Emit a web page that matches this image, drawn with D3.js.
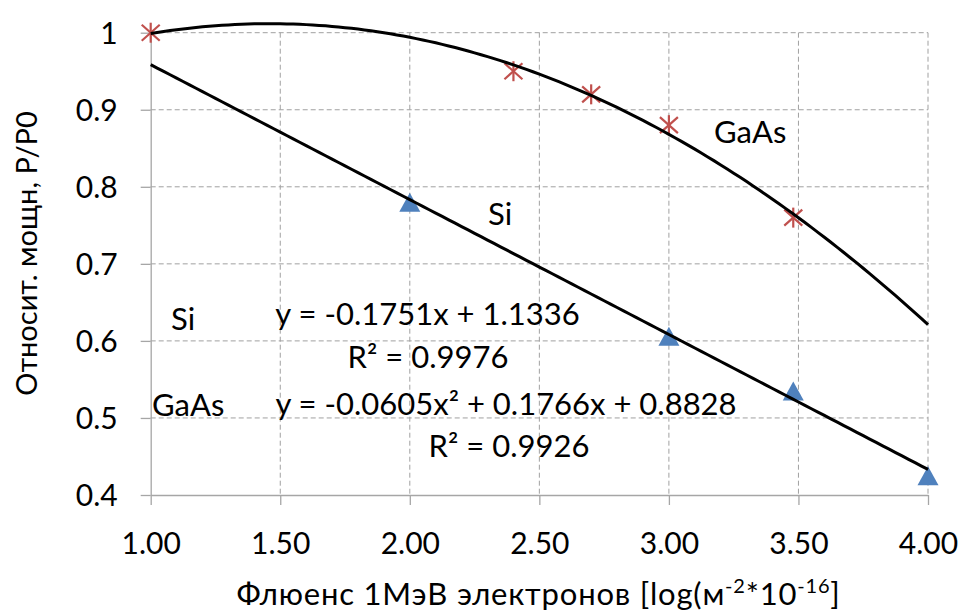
<!DOCTYPE html>
<html>
<head>
<meta charset="utf-8">
<script src="https://cdn.jsdelivr.net/npm/d3@7"></script>
<style>
  html, body { margin: 0; padding: 0; background: #fff; }
  svg { display: block; font-family: Lato, "Open Sans", sans-serif; }
</style>
</head>
<body>
<svg id="chart" width="966" height="611"></svg>
<script>
// ---- data ----
const xTicks = [1.0, 1.5, 2.0, 2.5, 3.0, 3.5, 4.0];
const xTickLabels = ["1.00", "1.50", "2.00", "2.50", "3.00", "3.50", "4.00"];
const yTicks = [0.4, 0.5, 0.6, 0.7, 0.8, 0.9, 1.0];
const yTickLabels = ["0.4", "0.5", "0.6", "0.7", "0.8", "0.9", "1"];

const gaasX = [1.0, 2.4, 2.7, 3.0, 3.48];
const gaasY = [1.0, 0.95, 0.92, 0.88, 0.76];
const siX = [2.0, 3.0, 3.48, 4.0];
const siY = [0.78, 0.606, 0.535, 0.425];

// trendline coefficients (highest power first), as printed on the chart
const siTrend = [-0.1751, 1.1336];
const gaasTrend = [-0.0605, 0.1766, 0.8828];
const trendRange = [1.0, 4.0];

const siEquation = "y = -0.1751x + 1.1336";
const siR2 = "R\u00B2 = 0.9976";
const gaasEquation = "y = -0.0605x\u00B2 + 0.1766x + 0.8828";
const gaasR2 = "R\u00B2 = 0.9926";

const yTitle = "Относит. мощн, P/P0";

// ---- layout ----
const svg = d3.select("#chart");
const pLeft = 150.7, pRight = 928, pTop = 32.7, pBottom = 495;
const x = d3.scaleLinear().domain([1, 4]).range([pLeft, pRight]);
const y = d3.scaleLinear().domain([0.4, 1]).range([pBottom, pTop]);
const fs = 31;
const tickFs = 30;
const gridColor = "#a0a0a0";
const axisColor = "#a6a6a6";

// grid
svg.append("g").selectAll("line").data(yTicks.filter(d => d > 0.4)).join("line")
  .attr("x1", pLeft).attr("x2", pRight)
  .attr("y1", d => y(d)).attr("y2", d => y(d))
  .attr("stroke", gridColor).attr("stroke-width", 1).attr("stroke-dasharray", "5,3");
svg.append("g").selectAll("line").data(xTicks.filter(d => d > 1)).join("line")
  .attr("x1", d => x(d)).attr("x2", d => x(d))
  .attr("y1", pTop).attr("y2", pBottom)
  .attr("stroke", gridColor).attr("stroke-width", 1).attr("stroke-dasharray", "5,3");

// axes
const yAxis = d3.axisLeft(y).tickValues(yTicks)
  .tickFormat((d, i) => yTickLabels[i]).tickSizeInner(10).tickSizeOuter(0).tickPadding(23);
const gy = svg.append("g").attr("transform", `translate(${pLeft},0)`).call(yAxis);
gy.select(".domain").attr("stroke", axisColor).attr("stroke-width", 1.3);
gy.selectAll(".tick line").attr("stroke", axisColor).attr("stroke-width", 1.3);
gy.selectAll(".tick text").attr("font-size", tickFs).attr("fill", "#000")
  .attr("font-family", "Lato").attr("dy", "0.36em");

const xAxis = d3.axisBottom(x).tickValues(xTicks)
  .tickFormat((d, i) => xTickLabels[i]).tickSizeInner(10).tickSizeOuter(0).tickPadding(10);
const gx = svg.append("g").attr("transform", `translate(0,${pBottom})`).call(xAxis);
gx.select(".domain").attr("stroke", axisColor).attr("stroke-width", 1.3);
gx.selectAll(".tick line").attr("stroke", axisColor).attr("stroke-width", 1.3);
gx.selectAll(".tick text").attr("font-size", tickFs).attr("fill", "#000")
  .attr("font-family", "Lato").attr("y", 59).attr("dy", 0);

// markers
const tri = { draw(ctx) { ctx.moveTo(0, -9.5); ctx.lineTo(10.5, 9.5); ctx.lineTo(-10.5, 9.5); ctx.closePath(); } };
svg.append("g").selectAll("path").data(siX.map((v, i) => [v, siY[i]])).join("path")
  .attr("transform", d => `translate(${x(d[0])},${y(d[1])})`)
  .attr("d", d3.symbol(tri)())
  .attr("fill", "#4F81BD");

const star = svg.append("g").selectAll("g").data(gaasX.map((v, i) => [v, gaasY[i]])).join("g")
  .attr("transform", d => `translate(${x(d[0])},${y(d[1])})`)
  .attr("stroke", "#C0504D").attr("stroke-width", 2.2).attr("fill", "none");
star.append("line").attr("x1", 0).attr("y1", -10).attr("x2", 0).attr("y2", 10);
star.append("line").attr("x1", -9).attr("y1", -8).attr("x2", 9).attr("y2", 8);
star.append("line").attr("x1", -9).attr("y1", 8).attr("x2", 9).attr("y2", -8);

// trendlines
function poly(c, t) { return c.reduce((acc, k) => acc * t + k, 0); }
const samples = d3.range(0, 121).map(i => trendRange[0] + (trendRange[1] - trendRange[0]) * i / 120);
const line = d3.line().x(d => x(d[0])).y(d => y(d[1]));
svg.append("path").datum(samples.map(t => [t, poly(gaasTrend, t)]))
  .attr("d", line).attr("fill", "none").attr("stroke", "#000").attr("stroke-width", 3);
svg.append("path").datum(samples.map(t => [t, poly(siTrend, t)]))
  .attr("d", line).attr("fill", "none").attr("stroke", "#000").attr("stroke-width", 3);

// text annotations
const txt = (s, px, py, anchor) => svg.append("text").attr("x", px).attr("y", py)
  .attr("text-anchor", anchor || "start").attr("font-size", fs).attr("fill", "#000").text(s);
txt("Si", 171, 330);
txt("GaAs", 152, 416);
txt(siEquation, 427.5, 325, "middle");
txt(siR2, 428, 368, "middle");
txt(gaasEquation, 506, 415, "middle");
txt(gaasR2, 509, 457, "middle");
txt("Si", 488, 225);
txt("GaAs", 714, 143);

// axis titles
svg.append("text").attr("transform", "translate(37,253.5) rotate(-90)")
  .attr("text-anchor", "middle").attr("font-size", 29).attr("fill", "#000").text(yTitle);

const xt = svg.append("text").attr("x", 538.5).attr("y", 605)
  .attr("text-anchor", "middle").attr("font-size", fs).attr("letter-spacing", 0.8).attr("fill", "#000");
xt.append("tspan").text("Флюенс 1МэВ электронов [log(м");
xt.append("tspan").attr("font-size", 20).attr("dy", -12).text("-2");
xt.append("tspan").attr("dy", 12).text("*10");
xt.append("tspan").attr("font-size", 20).attr("dy", -12).text("-16");
xt.append("tspan").attr("dy", 12).text("]");
</script>
</body>
</html>
